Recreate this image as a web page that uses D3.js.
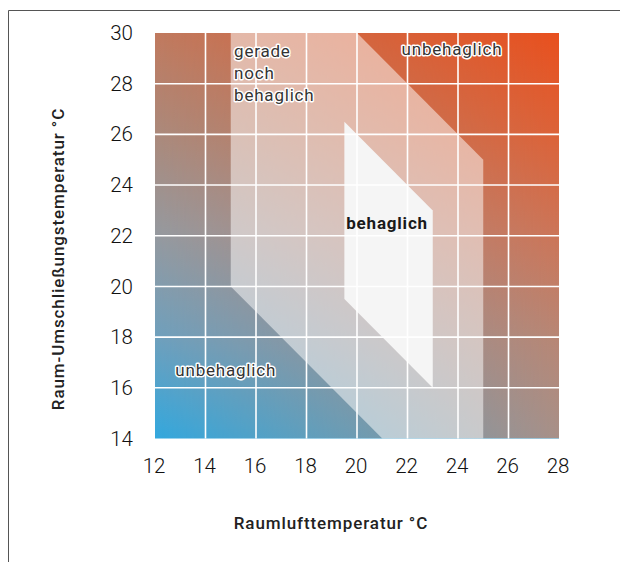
<!DOCTYPE html>
<html><head><meta charset="utf-8">
<script src="https://cdn.jsdelivr.net/npm/d3@7/dist/d3.min.js"></script>
<style>
html,body{margin:0;padding:0;background:#fff;}
svg{display:block;}
</style></head>
<body>
<svg id="chart" width="620" height="562"></svg>
<script>
// ---- data ----
const xTicks = [12, 14, 16, 18, 20, 22, 24, 26, 28];
const yTicks = [14, 16, 18, 20, 22, 24, 26, 28, 30];
const xDomain = [12, 28];
const yDomain = [14, 30];
// "gerade noch behaglich" zone (air temp, surface temp)
const outerZone = [[15, 30], [20, 30], [25, 25], [25, 14], [21, 14], [15, 20]];
// "behaglich" zone
const innerZone = [[19.5, 26.5], [23, 23], [23, 16], [19.5, 19.5]];
const labels = [
  {lines: ["gerade", "noch", "behaglich"], x: 15.13, y: 29.05, bold: false, halo: true, anchor: "start"},
  {lines: ["unbehaglich"], x: 23.76, y: 29.13, bold: false, halo: true, anchor: "middle"},
  {lines: ["unbehaglich"], x: 14.8, y: 16.45, bold: false, halo: true, anchor: "middle"},
  {lines: ["behaglich"], x: 21.19, y: 22.27, bold: true, halo: false, anchor: "middle"}
];
const xTitle = "Raumlufttemperatur °C";
const yTitle = "Raum-Umschließungstemperatur °C";

// ---- styles ----
const leftCol = [["0%", "#33a8de"], ["25%", "#6fa0bd"], ["50%", "#959aa0"], ["75%", "#ab8a7c"], ["100%", "#c07a5f"]];
const rightCol = [["0%", "#a89088"], ["25%", "#b88674"], ["50%", "#cc7558"], ["75%", "#dc6238"], ["100%", "#e8501e"]];

const svg = d3.select("#chart");
const x = d3.scaleLinear().domain(xDomain).range([155, 559]);
const y = d3.scaleLinear().domain(yDomain).range([438.5, 33]);

// frame
svg.append("line").attr("x1", 8.5).attr("x2", 620).attr("y1", 10.5).attr("y2", 10.5).attr("stroke", "#555").attr("stroke-width", 1);
svg.append("line").attr("x1", 8.5).attr("x2", 8.5).attr("y1", 10.5).attr("y2", 562).attr("stroke", "#555").attr("stroke-width", 1);

const defs = svg.append("defs");
function vGrad(id, stops) {
  const g = defs.append("linearGradient").attr("id", id)
    .attr("x1", 0).attr("y1", 1).attr("x2", 0).attr("y2", 0);
  stops.forEach(s => g.append("stop").attr("offset", s[0]).attr("stop-color", s[1]));
}
vGrad("gLeft", leftCol);
vGrad("gRight", rightCol);
const gm = defs.append("linearGradient").attr("id", "gMask").attr("x1", 0).attr("y1", 0).attr("x2", 1).attr("y2", 0);
gm.append("stop").attr("offset", "0%").attr("stop-color", "#000");
gm.append("stop").attr("offset", "100%").attr("stop-color", "#fff");
const px0 = x(xDomain[0]), px1 = x(xDomain[1]), py0 = y(yDomain[1]), py1 = y(yDomain[0]);
defs.append("mask").attr("id", "mH").attr("maskUnits", "userSpaceOnUse")
  .attr("x", px0).attr("y", py0).attr("width", px1 - px0).attr("height", py1 - py0)
  .append("rect").attr("x", px0).attr("y", py0).attr("width", px1 - px0).attr("height", py1 - py0)
  .attr("fill", "url(#gMask)");

svg.append("rect").attr("x", px0).attr("y", py0).attr("width", px1 - px0).attr("height", py1 - py0).attr("fill", "url(#gLeft)");
svg.append("rect").attr("x", px0).attr("y", py0).attr("width", px1 - px0).attr("height", py1 - py0).attr("fill", "url(#gRight)").attr("mask", "url(#mH)");

const line = d3.line().x(d => x(d[0])).y(d => y(d[1]));
svg.append("path").attr("d", line(outerZone) + "Z").attr("fill", "#fff").attr("fill-opacity", 0.5);
svg.append("path").attr("d", line(innerZone) + "Z").attr("fill", "#f5f5f5");

// grid
const grid = svg.append("g");
grid.selectAll(".vx").data(xTicks.filter(t => t > xDomain[0] && t < xDomain[1])).enter().append("line")
  .attr("x1", d => x(d)).attr("x2", d => x(d)).attr("y1", py0).attr("y2", py1)
  .attr("stroke", "#fff").attr("stroke-width", 1.6);
grid.selectAll(".hy").data(yTicks.filter(t => t > yDomain[0] && t < yDomain[1])).enter().append("line")
  .attr("y1", d => y(d)).attr("y2", d => y(d)).attr("x1", px0).attr("x2", px1)
  .attr("stroke", "#fff").attr("stroke-width", 1.6);

// axes
const font = "Roboto, 'DejaVu Sans', sans-serif";
const xAxis = svg.append("g").attr("transform", `translate(-1.5,${py1})`)
  .call(d3.axisBottom(x).tickValues(xTicks).tickSize(0).tickPadding(20).tickFormat(d3.format("d")));
const yAxis = svg.append("g").attr("transform", `translate(133,0)`)
  .call(d3.axisLeft(y).tickValues(yTicks).tickSize(0).tickPadding(0).tickFormat(d3.format("d")));
[xAxis, yAxis].forEach(a => {
  a.select(".domain").remove();
  a.selectAll("text").attr("font-family", font).attr("font-size", 20.5).attr("font-weight", 300).attr("fill", "#111");
});

svg.append("text").attr("x", 331).attr("y", 529).attr("text-anchor", "middle")
  .attr("font-family", font).attr("font-size", 17).attr("font-weight", 500).attr("letter-spacing", 0.9)
  .attr("fill", "#222").text(xTitle);
svg.append("text").attr("transform", `translate(64,259) rotate(-90)`).attr("text-anchor", "middle")
  .attr("font-family", font).attr("font-size", 17).attr("font-weight", 500).attr("letter-spacing", 0.9)
  .attr("fill", "#222").text(yTitle);

// zone labels
labels.forEach(l => {
  const t = svg.append("text").attr("x", x(l.x)).attr("y", y(l.y))
    .attr("text-anchor", l.anchor).attr("font-family", font).attr("font-size", 17)
    .attr("letter-spacing", 0.8)
    .attr("font-weight", l.bold ? 700 : 400).attr("fill", l.bold ? "#1a1a1a" : "#333");
  if (l.halo) t.attr("stroke", "#fff").attr("stroke-width", 3).attr("stroke-linejoin", "round").attr("paint-order", "stroke");
  l.lines.forEach((s, i) => t.append("tspan").attr("x", x(l.x)).attr("dy", i === 0 ? 0 : 22).text(s));
});
</script>
</body></html>
